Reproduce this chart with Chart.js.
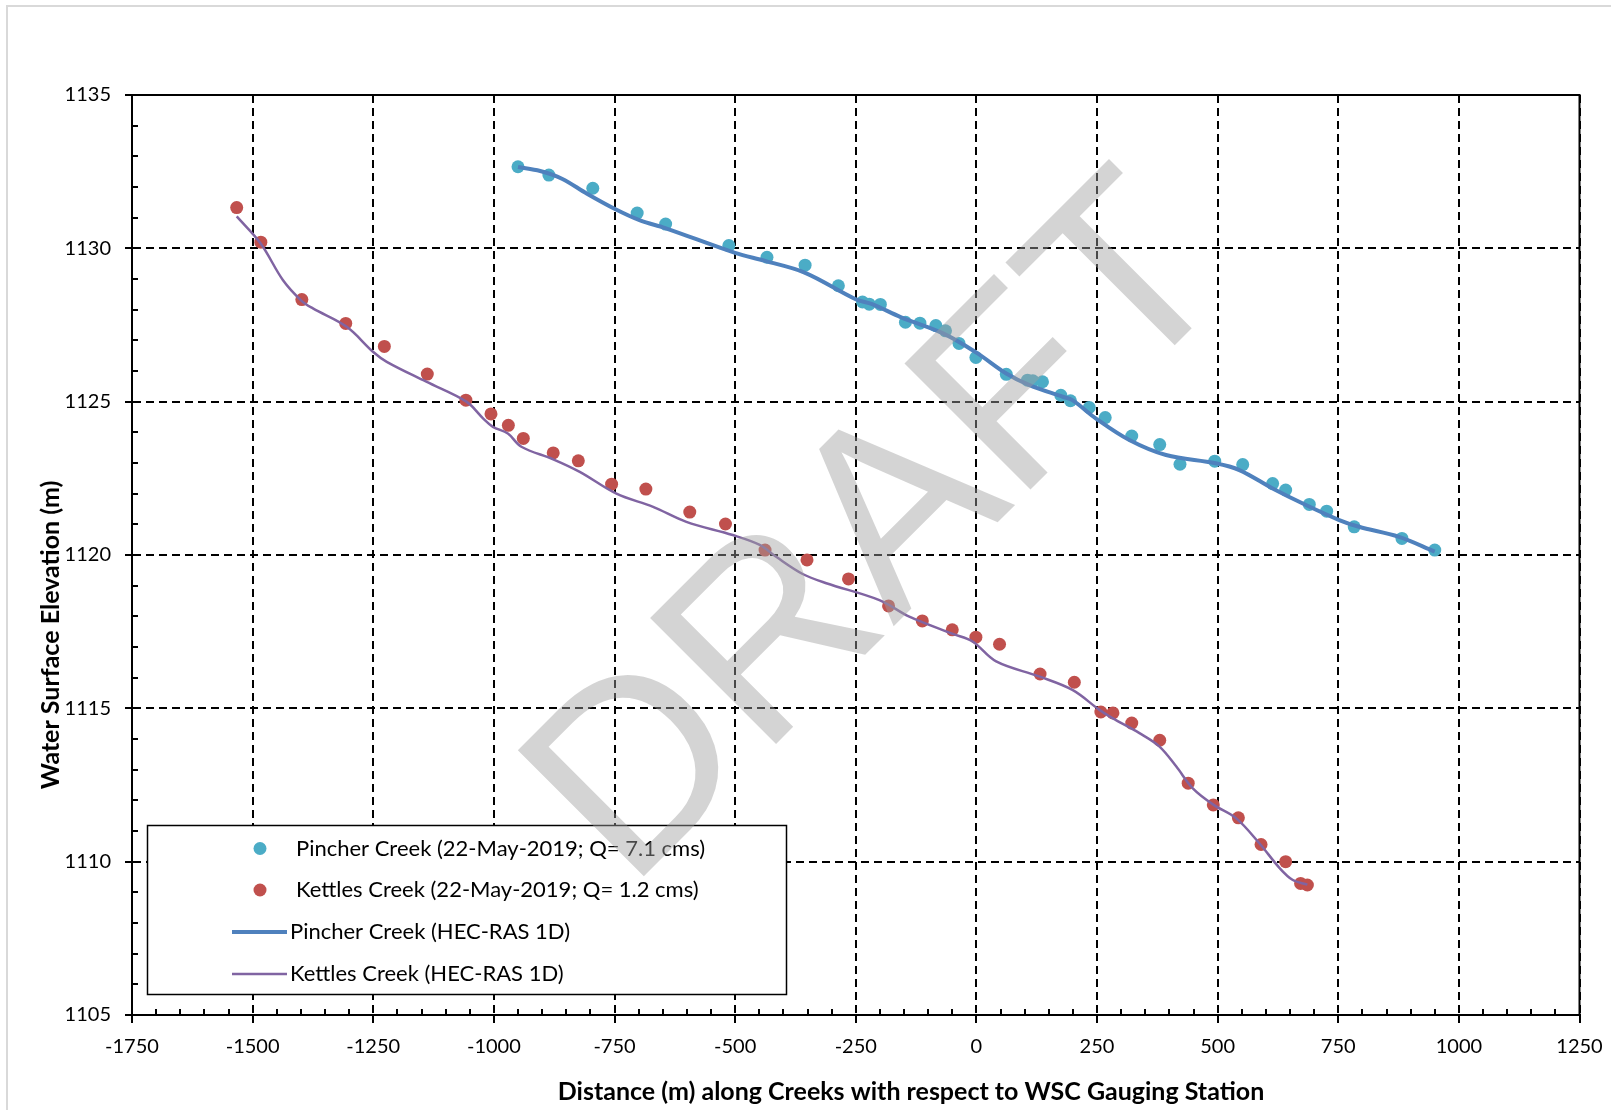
<!DOCTYPE html>
<html><head><meta charset="utf-8">
<script src="https://cdn.jsdelivr.net/npm/chart.js@4.4.0/dist/chart.umd.min.js"></script>
<style>
html,body{margin:0;padding:0;background:#fff;}
#wrap{position:relative;width:1611px;height:1110px;overflow:hidden;background:#fff;}
#frame{position:absolute;left:6px;top:5px;width:1700px;height:1200px;border-left:2px solid #d9d9d9;border-top:2px solid #d9d9d9;}
canvas{position:absolute;left:0;top:0;}
</style></head><body>
<div id="wrap"><div id="frame"></div><canvas id="c" width="1611" height="1110"></canvas></div>
<script>
// ---------- DATA ----------
const xTickValues = [-1750,-1500,-1250,-1000,-750,-500,-250,0,250,500,750,1000,1250];
const xTickLabels = ['-1750','-1500','-1250','-1000','-750','-500','-250','0','250','500','750','1000','1250'];
const yTickValues = [1105,1110,1115,1120,1125,1130,1135];
const yTickLabels = ['1105','1110','1115','1120','1125','1130','1135'];

const seriesNames = [
  'Pincher Creek (22-May-2019; Q= 7.1 cms)',
  'Kettles Creek (22-May-2019; Q= 1.2 cms)',
  'Pincher Creek (HEC-RAS 1D)',
  'Kettles Creek (HEC-RAS 1D)'
];
const xTitle = 'Distance (m) along Creeks with respect to WSC Gauging Station';
const yTitle = 'Water Surface Elevation (m)';
const watermarkText = 'DRAFT';

const pincherObsX = [-950,-886,-795,-703,-644,-513,-434,-355,-286,-236,-222,-199,-147,-117,-84,-64,-36,-1,62,106,117,137,175,195,234,267,322,380,422,494,552,614,641,690,726,783,882,950];
const pincherObsY = [1132.66,1132.39,1131.96,1131.15,1130.79,1130.09,1129.71,1129.45,1128.78,1128.25,1128.18,1128.17,1127.59,1127.56,1127.48,1127.31,1126.90,1126.44,1125.89,1125.70,1125.68,1125.65,1125.21,1125.03,1124.81,1124.48,1123.88,1123.60,1122.96,1123.06,1122.95,1122.33,1122.12,1121.65,1121.43,1120.92,1120.54,1120.16];

const kettlesObsX = [-1533,-1483,-1398,-1307,-1227,-1138,-1058,-1006,-970,-939,-877,-825,-756,-685,-594,-520,-438,-351,-265,-182,-112,-50,-1,48,132,203,258,283,322,380,439,491,543,590,641,672,686];
const kettlesObsY = [1131.33,1130.20,1128.33,1127.55,1126.80,1125.90,1125.05,1124.60,1124.23,1123.80,1123.33,1123.07,1122.31,1122.15,1121.40,1121.01,1120.16,1119.84,1119.22,1118.34,1117.85,1117.56,1117.32,1117.09,1116.12,1115.85,1114.88,1114.85,1114.52,1113.96,1112.56,1111.85,1111.43,1110.56,1110.00,1109.29,1109.24];

const pincherModelX = [-950,-904,-859,-807,-750,-697,-645,-500,-438,-356,-250,-216,-157,-68,0,62,110,179,199,248,317,393,496,545,614,683,752,793,876,950];
const pincherModelY = [1132.65,1132.52,1132.27,1131.78,1131.29,1130.91,1130.66,1129.85,1129.59,1129.21,1128.34,1128.18,1127.76,1127.22,1126.60,1125.92,1125.54,1125.16,1125.05,1124.45,1123.75,1123.26,1122.99,1122.77,1122.17,1121.63,1121.14,1120.92,1120.59,1120.11];

const kettlesModelX = [-1533,-1483,-1437,-1398,-1375,-1305,-1250,-1222,-1140,-1057,-1022,-1002,-971,-943,-877,-822,-746,-670,-601,-505,-449,-415,-360,-311,-201,-139,-49,-8,41,130,199,255,282,338,379,414,448,491,538,586,628,655,686];
const kettlesModelY = [1131.04,1130.15,1128.96,1128.28,1128.04,1127.44,1126.62,1126.30,1125.65,1125.00,1124.45,1124.18,1123.96,1123.53,1123.12,1122.71,1122.00,1121.57,1121.08,1120.65,1120.33,1119.94,1119.38,1119.08,1118.53,1117.99,1117.43,1117.18,1116.53,1116.04,1115.60,1114.95,1114.68,1114.19,1113.76,1113.11,1112.40,1111.86,1111.42,1110.61,1109.80,1109.41,1109.25];

// ---------- helpers ----------
const toXY = (xs, ys) => xs.map((x, i) => ({x: x, y: ys[i]}));
const FONT = 'Lato, "Open Sans", sans-serif';
const COL_P_PTS = '#4BACC6', COL_K_PTS = '#C0504D', COL_P_LINE = '#4F81BD', COL_K_LINE = '#8064A2';

const extrasPlugin = {
  id: 'extras',
  afterDatasetsDraw(chart) {
    const {ctx, chartArea: a, scales: {x, y}} = chart;
    ctx.save();
    ctx.strokeStyle = '#000';
    ctx.lineWidth = 2;
    ctx.setLineDash([]);
    ctx.beginPath();
    for (let v = 1105; v <= 1135; v += 1) {
      if (v % 5 === 0) continue;
      const py = Math.round(y.getPixelForValue(v));
      ctx.moveTo(a.left, py); ctx.lineTo(a.left + 6, py);
    }
    for (let v = -1750; v <= 1250; v += 50) {
      if (v % 250 === 0) continue;
      const px = Math.round(x.getPixelForValue(v));
      ctx.moveTo(px, a.bottom); ctx.lineTo(px, a.bottom - 6);
    }
    ctx.stroke();
    ctx.strokeRect(a.left, a.top, a.right - a.left, a.bottom - a.top);
    ctx.restore();
  },
  afterDraw(chart) {
    const {ctx} = chart;
    const ds = chart.data.datasets;
    const byLabel = name => ds.find(d => d.label === name);
    ctx.save();
    // legend box
    const bx = 147.5, by = 825.5, bw = 639, bh = 169;
    ctx.fillStyle = '#fff';
    ctx.fillRect(bx, by, bw, bh);
    ctx.strokeStyle = '#000';
    ctx.lineWidth = 1.5;
    ctx.strokeRect(bx, by, bw, bh);
    ctx.font = '22px ' + FONT;
    ctx.textBaseline = 'middle';
    ctx.textAlign = 'left';
    const rows = [848.5, 890, 932, 974];
    [0, 1].forEach(i => {
      const d = byLabel(seriesNames[i]);
      ctx.fillStyle = d.backgroundColor;
      ctx.beginPath(); ctx.arc(260, rows[i], 6.5, 0, Math.PI * 2); ctx.fill();
      ctx.fillStyle = '#000';
      ctx.fillText(d.label, 296, rows[i]);
    });
    [2, 3].forEach(i => {
      const d = byLabel(seriesNames[i]);
      ctx.strokeStyle = d.borderColor;
      ctx.lineWidth = d.borderWidth;
      ctx.beginPath(); ctx.moveTo(232, rows[i]); ctx.lineTo(287, rows[i]); ctx.stroke();
      ctx.fillStyle = '#000';
      ctx.fillText(d.label, 290, rows[i]);
    });
    // watermark
    ctx.save();
    ctx.translate(934, 586);
    ctx.rotate(-45 * Math.PI / 180);
    ctx.font = '259px "Liberation Sans", Arial, sans-serif';
    ctx.textAlign = 'center';
    ctx.textBaseline = 'alphabetic';
    ctx.fillStyle = 'rgba(160,160,160,0.45)';
    ctx.fillText(watermarkText, 0, 0);
    ctx.restore();
    // axis titles
    ctx.fillStyle = '#000';
    ctx.font = 'bold 25px ' + FONT;
    ctx.textAlign = 'center';
    ctx.textBaseline = 'middle';
    ctx.fillText(xTitle, 911, 1092);
    ctx.save();
    ctx.translate(51, 635);
    ctx.rotate(-Math.PI / 2);
    ctx.fillText(yTitle, 0, 0);
    ctx.restore();
    ctx.restore();
  }
};

function draw() {
  new Chart(document.getElementById('c'), {
    type: 'scatter',
    data: {
      datasets: [
        {label: seriesNames[2], type: 'line', data: toXY(pincherModelX, pincherModelY), borderColor: COL_P_LINE, backgroundColor: COL_P_LINE, borderWidth: 4, pointRadius: 0, tension: 0.35, fill: false, order: 1},
        {label: seriesNames[3], type: 'line', data: toXY(kettlesModelX, kettlesModelY), borderColor: COL_K_LINE, backgroundColor: COL_K_LINE, borderWidth: 2.5, pointRadius: 0, tension: 0.35, fill: false, order: 2},
        {label: seriesNames[0], data: toXY(pincherObsX, pincherObsY), backgroundColor: COL_P_PTS, borderWidth: 0, pointRadius: 6.5, pointHoverRadius: 6.5, order: 3},
        {label: seriesNames[1], data: toXY(kettlesObsX, kettlesObsY), backgroundColor: COL_K_PTS, borderWidth: 0, pointRadius: 6.5, pointHoverRadius: 6.5, order: 4}
      ]
    },
    options: {
      responsive: false,
      animation: false,
      devicePixelRatio: 1,
      layout: {padding: {left: 0, top: 95, right: 31.5, bottom: 0}},
      plugins: {legend: {display: false}, tooltip: {enabled: false}},
      scales: {
        x: {
          type: 'linear', min: -1750, max: 1250,
          afterBuildTicks: s => { s.ticks = xTickValues.map(v => ({value: v})); },
          afterFit: s => { s.height = 95; s.paddingLeft = 0; s.paddingRight = 0; },
          ticks: {callback: (v, i) => xTickLabels[i], color: '#000', font: {family: FONT, size: 20}, padding: 12, maxRotation: 0, autoSkip: false},
          grid: {color: '#000', lineWidth: 2, tickLength: 8, tickWidth: 2, tickColor: '#000', tickBorderDash: []},
          border: {display: true, color: '#000', width: 2, dash: [8, 5]}
        },
        y: {
          type: 'linear', min: 1105, max: 1135,
          afterBuildTicks: s => { s.ticks = yTickValues.map(v => ({value: v})); },
          afterFit: s => { s.width = 132; s.paddingTop = 0; s.paddingBottom = 0; },
          ticks: {callback: (v, i) => yTickLabels[i], color: '#000', font: {family: FONT, size: 20}, padding: 14, autoSkip: false},
          grid: {color: '#000', lineWidth: 2, tickLength: 7, tickWidth: 2, tickColor: '#000', tickBorderDash: []},
          border: {display: true, color: '#000', width: 2, dash: [8, 5]}
        }
      }
    },
    plugins: [extrasPlugin]
  });
}

const fontLoads = document.fonts ? Promise.all([
  document.fonts.load('20px Lato'), document.fonts.load('bold 25px Lato'), document.fonts.load('259px "Liberation Sans"')
]) : Promise.resolve();
fontLoads.then(draw, draw);
</script>
</body></html>
